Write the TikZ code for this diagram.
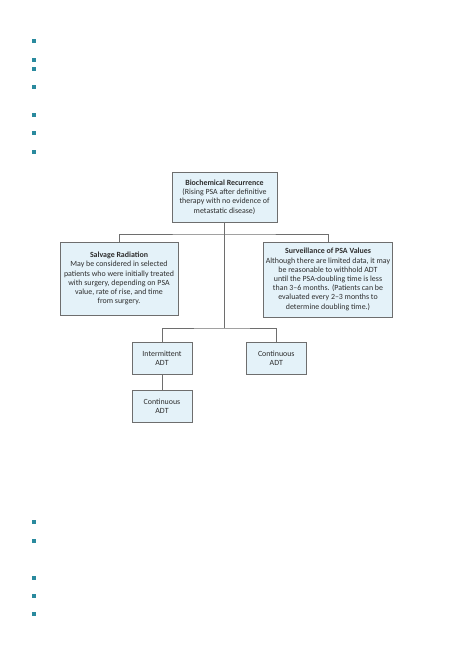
\documentclass[tikz,border=0pt]{standalone}
\usepackage{fontspec}
\setmainfont{Carlito}
\usetikzlibrary{positioning}
\definecolor{boxfill}{RGB}{228,242,249}
\definecolor{boxline}{RGB}{110,110,110}
\definecolor{boxtext}{RGB}{45,45,45}
\definecolor{bullet}{RGB}{42,138,158}
\tikzset{
  box/.style={
    rectangle,
    draw=boxline,
    fill=boxfill,
    align=center,
    inner sep=0pt,
    text=boxtext,
    font=\fontsize{7.9}{9.2}\selectfont
  },
  smallbox/.style={
    box,
    minimum width=59.5pt,
    minimum height=32.5pt
  },
  link/.style={draw=boxline, line width=0.6pt},
  mark box/.style={rectangle, fill=bullet, minimum size=4pt, inner sep=0pt}
}

\begin{document}
\begin{tikzpicture}[x=1pt,y=-1pt]
\useasboundingbox (0,0) rectangle (459,650);

% list markers
\foreach \yy [count=\i] in {41,60,69,87,115,133,152,522,541,578,596,614}
  \node[mark box] (dot\i) at (34,\yy) {};

\node[box, minimum width=105pt, minimum height=50pt] (recur) at (224.5,197)
  {\textbf{Biochemical Recurrence}\\(Rising PSA after definitive\\therapy with no evidence of\\metastatic disease)};
\node[box, minimum width=118pt, minimum height=73pt] (salvage) at (119,278.5)
  {\textbf{Salvage Radiation}\\May be considered in selected\\patients who were initially treated\\with surgery, depending on PSA\\value, rate of rise, and time\\from surgery.};
\node[box, minimum width=129pt, minimum height=75pt] (watch) at (328,279.5)
  {\textbf{Surveillance of PSA Values}\\Although there are limited data, it may\\be reasonable to withhold ADT\\until the PSA-doubling time is less\\than 3–6 months. (Patients can be\\evaluated every 2–3 months to\\determine doubling time.)};
\node[smallbox] (interm) at (162,358) {Intermittent\\ADT};
\node[smallbox] (contR) at (276.3,358) {Continuous\\ADT};
\node[smallbox] (contB) at (162,406) {Continuous\\ADT};

\coordinate (split) at (224.5,234);
\coordinate (fork) at (224.5,328);

\draw[link] (recur.south) -- (fork);
\draw[link] (salvage.north) |- (split) -| (watch.north);
\draw[link] (interm.north) |- (fork) -| (contR.north);
\draw[link] (interm.south) -- (contB.north);
\end{tikzpicture}
\end{document}
